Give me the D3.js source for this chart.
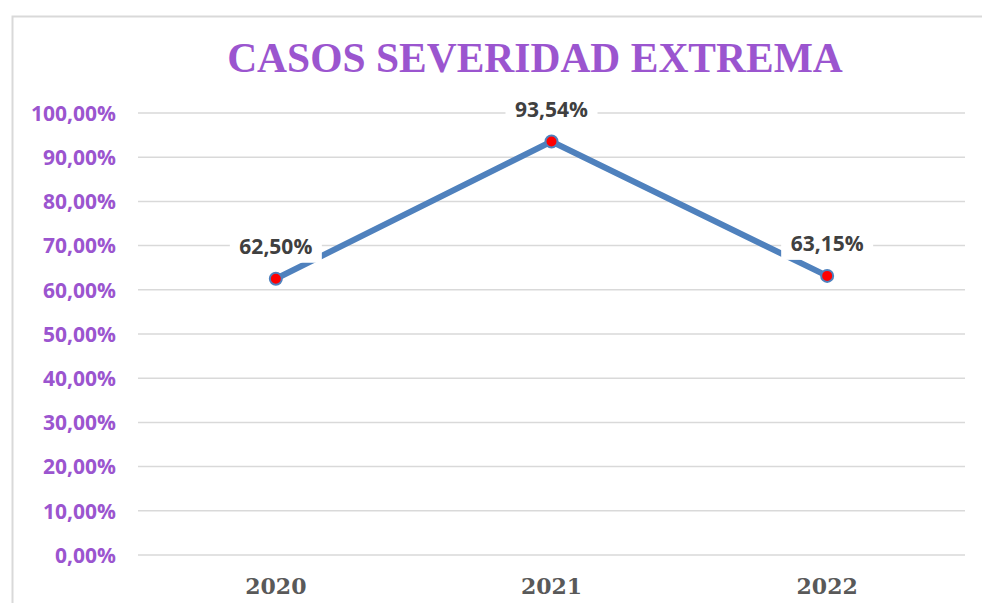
<!DOCTYPE html>
<html>
<head>
<meta charset="utf-8">
<script src="https://cdn.jsdelivr.net/npm/d3@7"></script>
<style>
  body { margin: 0; background: #fff; }
  svg { display: block; }
</style>
</head>
<body>
<div id="chart"></div>
<script>
// chart data
var years = ["2020", "2021", "2022"];
var values = [62.50, 93.54, 63.15];
var yTicks = [0, 10, 20, 30, 40, 50, 60, 70, 80, 90, 100];
var title = "CASOS SEVERIDAD EXTREMA";

var width = 982, height = 603;
var margin = {top: 113, right: 17, bottom: 48, left: 138};

var svg = d3.select("#chart").append("svg")
    .attr("width", width)
    .attr("height", height);

// outer chart border
svg.append("rect")
    .attr("x", 12.5).attr("y", 16.5)
    .attr("width", 990).attr("height", 620)
    .attr("fill", "none")
    .attr("stroke", "#d9d9d9")
    .attr("stroke-width", 2);

svg.append("text")
    .attr("x", 535).attr("y", 72)
    .attr("text-anchor", "middle")
    .attr("fill", "#9b55cf")
    .style("font-family", "'Liberation Serif', 'Times New Roman', serif")
    .style("font-weight", "bold")
    .style("font-size", "41.5px")
    .text(title);

var x = d3.scaleBand()
    .domain(years)
    .range([margin.left, width - margin.right]);

var y = d3.scaleLinear()
    .domain([0, 100])
    .range([height - margin.bottom, margin.top]);

var fmt = function(v){ return v.toFixed(2).replace(".", ",") + "%"; };

// gridlines
svg.append("g").selectAll("line")
    .data(yTicks)
    .enter().append("line")
    .attr("x1", margin.left).attr("x2", width - margin.right)
    .attr("y1", function(d){ return y(d); })
    .attr("y2", function(d){ return y(d); })
    .attr("stroke", "#d9d9d9")
    .attr("stroke-width", 1.5);

// y axis labels
var yAxis = d3.axisLeft(y).tickValues(yTicks).tickSize(0).tickPadding(0)
    .tickFormat(function(d){ return fmt(d); });
var gy = svg.append("g")
    .attr("transform", "translate(116,0)")
    .call(yAxis);
gy.select(".domain").remove();
gy.selectAll("text")
    .attr("fill", "#9b55cf")
    .attr("dy", "0.35em")
    .style("font-family", "'Open Sans', sans-serif")
    .style("font-weight", "bold")
    .style("font-size", "21px");

// x axis labels
var xAxis = d3.axisBottom(x).tickSize(0).tickPadding(0);
var gx = svg.append("g")
    .attr("transform", "translate(0,594)")
    .call(xAxis);
gx.select(".domain").remove();
gx.selectAll("text")
    .attr("y", 0).attr("dy", 0)
    .attr("fill", "#595959")
    .style("font-family", "'DejaVu Serif', serif")
    .style("font-weight", "bold")
    .style("font-size", "22px");

var pts = years.map(function(d, i){ return {year: d, value: values[i]}; });
var cx = function(d){ return x(d.year) + x.bandwidth() / 2; };

var line = d3.line()
    .x(cx)
    .y(function(d){ return y(d.value); });

svg.append("path")
    .datum(pts)
    .attr("d", line)
    .attr("fill", "none")
    .attr("stroke", "#4f81bd")
    .attr("stroke-width", 6)
    .attr("stroke-linejoin", "round");

svg.append("g").selectAll("circle")
    .data(pts)
    .enter().append("circle")
    .attr("cx", cx)
    .attr("cy", function(d){ return y(d.value); })
    .attr("r", 6)
    .attr("fill", "#ff0000")
    .attr("stroke", "#4f81bd")
    .attr("stroke-width", 2);

// data labels with white boxes
var labels = svg.append("g").selectAll("g")
    .data(pts)
    .enter().append("g")
    .attr("transform", function(d){ return "translate(" + cx(d) + "," + (y(d.value) - 25) + ")"; });

labels.append("rect")
    .attr("x", -46).attr("y", -24)
    .attr("width", 92).attr("height", 33)
    .attr("fill", "#fff");

labels.append("text")
    .attr("text-anchor", "middle")
    .attr("fill", "#404040")
    .style("font-family", "'Open Sans', sans-serif")
    .style("font-weight", "bold")
    .style("font-size", "21px")
    .text(function(d){ return fmt(d.value); });
</script>
</body>
</html>
